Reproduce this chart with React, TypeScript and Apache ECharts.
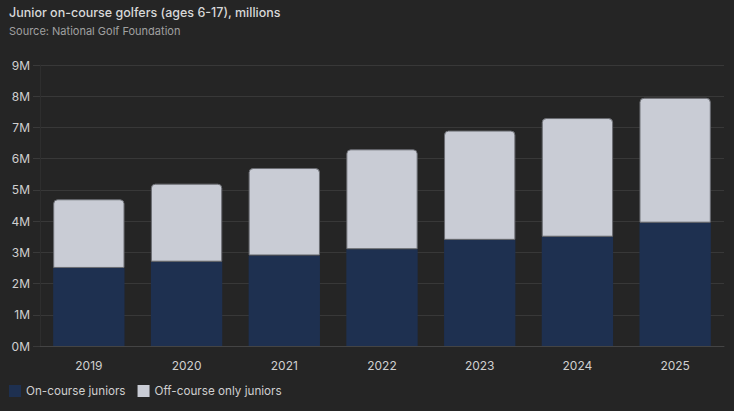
import React, { useEffect, useRef } from "react";
import * as echarts from "echarts";

const years = ["2019", "2020", "2021", "2022", "2023", "2024", "2025"];
const onCourse = [2.5, 2.7, 2.9, 3.1, 3.4, 3.5, 3.95];
const offCourseOnly = [2.2, 2.5, 2.8, 3.2, 3.5, 3.8, 4.0];
const seriesNames = ["On-course juniors", "Off-course only juniors"];
const titleText = "Junior on-course golfers (ages 6-17), millions";
const subtitleText = "Source: National Golf Foundation";

export default function App() {
  const ref = useRef<HTMLDivElement>(null);
  useEffect(() => {
    if (!ref.current) return;
    const chart = echarts.init(ref.current, undefined, { renderer: "svg" });
    const font = "Inter, 'Noto Sans', sans-serif";
    chart.setOption({
      animation: false,
      backgroundColor: "#252525",
      textStyle: { fontFamily: font },
      title: {
        text: titleText,
        subtext: subtitleText,
        left: 4,
        top: 1,
        itemGap: 6,
        textStyle: { color: "#d8d8d8", fontSize: 12.5, fontWeight: 500, fontFamily: font },
        subtextStyle: { color: "#a0a0a0", fontSize: 11, fontFamily: font },
      },
      legend: {
        left: 4,
        bottom: 9,
        itemWidth: 12,
        itemHeight: 12,
        itemGap: 12,
        icon: "rect",
        textStyle: { color: "#cfcfcf", fontSize: 11.7, fontFamily: font },
        itemStyle: { borderWidth: 0 },
        data: seriesNames,
      },
      grid: { left: 40, right: 10, top: 65, bottom: 65, containLabel: false },
      xAxis: {
        type: "category",
        data: years,
        axisLine: { lineStyle: { color: "#444" } },
        axisTick: { show: false },
        axisLabel: { color: "#d0d0d0", fontSize: 12, margin: 13 },
      },
      yAxis: {
        type: "value",
        min: 0,
        max: 9,
        interval: 1,
        axisLine: { show: true, lineStyle: { color: "#2e2e2e" } },
        axisTick: { show: true, length: 7, lineStyle: { color: "#3a3a3a" } },
        axisLabel: { color: "#d0d0d0", fontSize: 12, margin: 10, formatter: (v: number) => v + "M" },
        splitLine: { lineStyle: { color: "#383838" } },
      },
      series: [
        {
          name: seriesNames[0],
          type: "bar",
          stack: "total",
          data: onCourse,
          barWidth: "73%",
          itemStyle: { color: "#1e3050" },
        },
        {
          name: seriesNames[1],
          type: "bar",
          stack: "total",
          data: offCourseOnly,
          barWidth: "73%",
          itemStyle: { color: "#c9ccd5", borderColor: "#6a6c72", borderWidth: 1, borderRadius: [4, 4, 0, 0] },
        },
      ],
    });
    return () => chart.dispose();
  }, []);
  return (
    <div
      ref={ref}
      style={{ position: "absolute", left: 0, top: 0, width: 734, height: 411 }}
    />
  );
}
